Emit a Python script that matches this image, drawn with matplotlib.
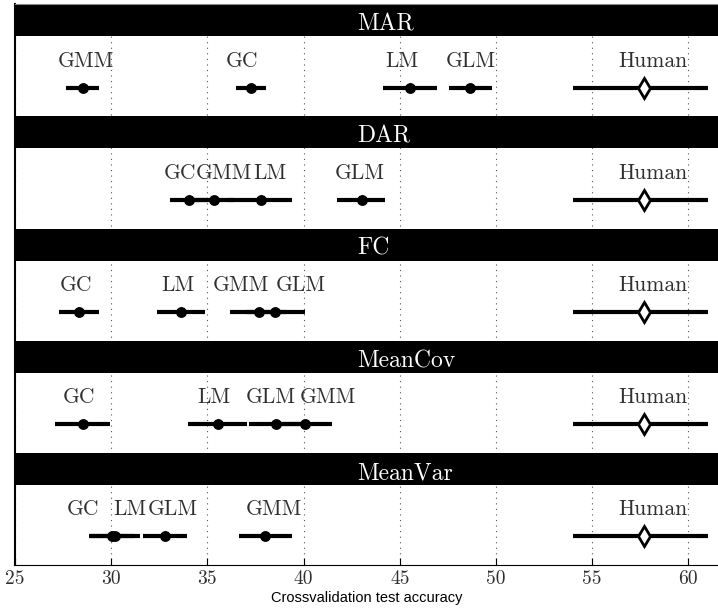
import matplotlib
matplotlib.use("Agg")
import matplotlib.pyplot as plt
import numpy as np

plt.rcParams['axes.formatter.use_mathtext'] = True

# ---- data (mean accuracy, lower / upper end of the interval) ----
panels = ['MAR', 'DAR', 'FC', 'MeanCov', 'MeanVar']

methods = {
    'MAR':     ['GMM', 'GC', 'LM', 'GLM', 'Human'],
    'DAR':     ['GC', 'GMM', 'LM', 'GLM', 'Human'],
    'FC':      ['GC', 'LM', 'GMM', 'GLM', 'Human'],
    'MeanCov': ['GC', 'LM', 'GLM', 'GMM', 'Human'],
    'MeanVar': ['GC', 'LM', 'GLM', 'GMM', 'Human'],
}
acc = {
    'MAR':     [28.52, 37.26, 45.54, 48.66, 57.68],
    'DAR':     [34.05, 35.36, 37.77, 43.02, 57.68],
    'FC':      [28.35, 33.63, 37.67, 38.50, 57.68],
    'MeanCov': [28.52, 35.54, 38.57, 40.08, 57.68],
    'MeanVar': [30.05, 30.20, 32.80, 37.99, 57.68],
}
acc_lo = {
    'MAR':     [27.64, 36.49, 44.12, 47.55, 54.00],
    'DAR':     [33.06, 34.30, 36.10, 41.73, 54.00],
    'FC':      [27.31, 32.39, 36.18, 37.00, 54.00],
    'MeanCov': [27.08, 34.01, 37.18, 38.70, 54.00],
    'MeanVar': [28.87, 28.90, 31.67, 36.66, 54.00],
}
acc_hi = {
    'MAR':     [29.39, 38.05, 46.95, 49.80, 61.00],
    'DAR':     [35.04, 36.40, 39.42, 44.22, 61.00],
    'FC':      [29.39, 34.86, 39.10, 40.06, 61.00],
    'MeanCov': [29.94, 37.08, 39.95, 41.50, 61.00],
    'MeanVar': [31.20, 31.50, 33.96, 39.39, 61.00],
}

# where the name labels sit (shifted a bit so they don't overlap)
label_x = {
    'MAR':     [28.68, 36.79, 45.10, 48.68, 58.14],
    'DAR':     [33.58, 35.85, 38.26, 42.93, 58.14],
    'FC':      [28.18, 33.48, 36.74, 39.87, 58.14],
    'MeanCov': [28.32, 35.36, 38.28, 41.29, 58.14],
    'MeanVar': [28.54, 30.98, 33.19, 38.48, 58.14],
}

xticks = [25, 30, 35, 40, 45, 50, 55, 60]

serif = 'cmr10'
head_h = 0.285
pt_off = 0.745
lab_off = 0.557
title_off = 0.235

fig = plt.figure(figsize=(7.18, 6.09), dpi=100)
ax = fig.add_axes([0.02075, 0.07225, 0.9793, 0.92069])

n = len(panels)
for k, p in enumerate(panels):
    top = n - k
    ax.axhspan(top - head_h, top, color='black', zorder=1, lw=0)
    ax.text(42.78, top - title_off, p, color='white', fontsize=17,
            family=serif, ha='left', va='baseline', zorder=5)

    y = top - pt_off
    m = np.array(acc[p])
    lo = m - np.array(acc_lo[p])
    hi = np.array(acc_hi[p]) - m
    for i, name in enumerate(methods[p]):
        human = name == 'Human'
        ax.errorbar(m[i], y, xerr=[[lo[i]], [hi[i]]], fmt='none',
                    ecolor='black', elinewidth=3.0, capsize=0, zorder=3)
        if human:
            ax.plot(m[i], y, marker='d', ms=10, mfc='white', mec='black',
                    mew=2.0, zorder=4)
        else:
            ax.plot(m[i], y, marker='o', ms=6.8, color='black', zorder=4)
        ax.text(label_x[p][i], top - lab_off, name, fontsize=15.5,
                family=serif, color='#303030', ha='center', va='baseline',
                zorder=5)

ax.set_xlim(25, 61.54)
ax.set_ylim(0, n)
ax.set_xticks(xticks)
ax.set_xticklabels([str(t) for t in xticks], family=serif, fontsize=14,
                   color='#303030')
ax.set_yticks([])
ax.tick_params(axis='x', direction='in', top=True, length=5, width=0.8,
               pad=4)
ax.grid(axis='x', linestyle=(0, (1, 4)), color='#555555', lw=0.8)
ax.set_axisbelow(True)
ax.spines['right'].set_visible(False)
ax.spines['left'].set_linewidth(1.5)
ax.spines['top'].set_color('#888888')
ax.set_xlabel('Crossvalidation test accuracy', family='Liberation Sans',
              fontsize=10.5, labelpad=1.5)

fig.savefig('out.png', dpi=100)
